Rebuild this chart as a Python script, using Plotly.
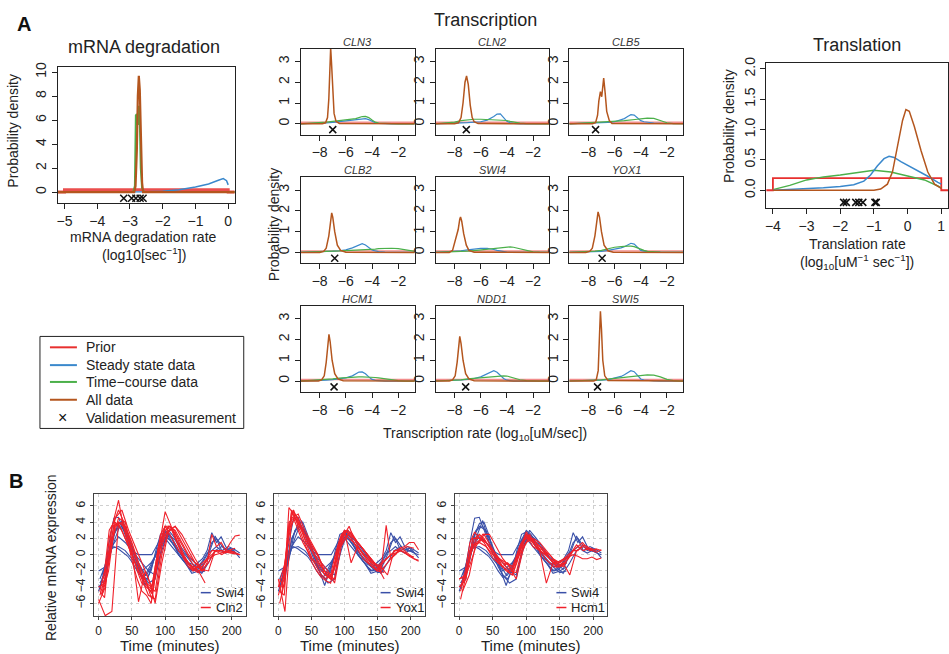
import plotly.graph_objects as go

FONT = "Liberation Sans, Arial, Helvetica, sans-serif"
W, H = 949, 654

RED = "#E8302F"
BLUE = "#3A88CC"
GREEN = "#4BB04A"
BROWN = "#B4561E"
B_BLUE = "#3A50A8"
B_RED = "#F0202A"

# ---------------- mRNA degradation ----------------
MD_PRIOR_X = [-5.2, -5.0, -5.0, 0.0, 0.0, 0.2]
MD_PRIOR_Y = [0, 0, 0.2, 0.2, 0, 0]
MD_BLUE_X = [-5.2, -3.0, -2.5, -2.0, -1.5, -1.0, -0.6, -0.3, -0.15, -0.05, 0.0]
MD_BLUE_Y = [0, 0, 0.02, 0.08, 0.2, 0.42, 0.68, 0.98, 1.12, 0.95, 0.6]
MD_GREEN_X = [-5.2, -2.9, -2.85, -2.82, -2.79, -2.76, -2.73, -2.7, -2.67, -2.63, -2.56, 0.2]
MD_GREEN_Y = [0, 0, 0.5, 6.4, 6.5, 5.6, 7.2, 6.0, 2.0, 0.3, 0, 0]
MD_ALL_X = [-5.2, -2.87, -2.83, -2.79, -2.76, -2.73, -2.7, -2.67, -2.63, -2.6, 0.2]
MD_ALL_Y = [0, 0, 0.5, 3.5, 8.0, 9.7, 8.5, 4.5, 0.8, 0, 0]
MD_VALID_X = [-3.19, -2.95, -2.82, -2.69, -2.6]

# ---------------- Transcription ----------------
GENES = ["CLN3", "CLN2", "CLB5", "CLB2", "SWI4", "YOX1", "HCM1", "NDD1", "SWI5"]
TX_GRID = [-9.5, -8, -7.5, -7, -6.5, -6, -5.5, -5.25, -5, -4.75, -4.5, -4.25,
           -4, -3.75, -3.5, -3, -2.5, -2, -1.5, -1, -0.5]
TX_PRIOR_X = [-9.5, -0.5]
TX_PRIOR_Y = [0.07, 0.07]
TX_STEADY = {
    "CLN3": [0.0, 0.02, 0.04, 0.07, 0.1, 0.13, 0.17, 0.19, 0.21, 0.24, 0.25, 0.2, 0.12, 0.05, 0.02, 0.0, 0, 0, 0, 0, 0],
    "CLN2": [0.0, 0.02, 0.04, 0.06, 0.08, 0.1, 0.18, 0.25, 0.35, 0.47, 0.48, 0.3, 0.12, 0.05, 0.02, 0.0, 0, 0, 0, 0, 0],
    "CLB5": [0.0, 0.02, 0.03, 0.05, 0.07, 0.1, 0.18, 0.25, 0.35, 0.44, 0.42, 0.3, 0.15, 0.1, 0.07, 0.04, 0.02, 0.01, 0, 0, 0],
    "CLB2": [0.0, 0.02, 0.04, 0.06, 0.08, 0.12, 0.22, 0.3, 0.38, 0.42, 0.36, 0.22, 0.12, 0.07, 0.04, 0.02, 0.01, 0, 0, 0, 0],
    "SWI4": [0.0, 0.05, 0.08, 0.12, 0.16, 0.19, 0.2, 0.18, 0.14, 0.1, 0.06, 0.03, 0.01, 0, 0, 0, 0, 0, 0, 0, 0],
    "YOX1": [0.0, 0.01, 0.03, 0.05, 0.1, 0.15, 0.22, 0.27, 0.35, 0.44, 0.4, 0.25, 0.1, 0.06, 0.04, 0.02, 0.01, 0, 0, 0, 0],
    "HCM1": [0.0, 0.02, 0.04, 0.07, 0.1, 0.15, 0.25, 0.33, 0.43, 0.44, 0.35, 0.2, 0.08, 0.03, 0.01, 0, 0, 0, 0, 0, 0],
    "NDD1": [0.0, 0.02, 0.05, 0.08, 0.12, 0.2, 0.35, 0.45, 0.5, 0.42, 0.28, 0.12, 0.04, 0.01, 0, 0, 0, 0, 0, 0, 0],
    "SWI5": [0.0, 0.01, 0.02, 0.04, 0.07, 0.13, 0.22, 0.3, 0.4, 0.5, 0.45, 0.28, 0.1, 0.05, 0.03, 0.01, 0, 0, 0, 0, 0],
}
TX_TIMECOURSE = {
    "CLN3": [0.0, 0.05, 0.08, 0.12, 0.15, 0.17, 0.2, 0.25, 0.3, 0.35, 0.36, 0.3, 0.18, 0.08, 0.03, 0.01, 0, 0, 0, 0, 0],
    "CLN2": [0.0, 0.08, 0.15, 0.2, 0.22, 0.22, 0.21, 0.2, 0.2, 0.2, 0.19, 0.18, 0.16, 0.12, 0.08, 0.03, 0.01, 0, 0, 0, 0],
    "CLB5": [0.0, 0.04, 0.06, 0.08, 0.1, 0.12, 0.14, 0.15, 0.16, 0.18, 0.2, 0.22, 0.24, 0.26, 0.27, 0.26, 0.15, 0.05, 0.01, 0, 0],
    "CLB2": [0.0, 0.02, 0.03, 0.05, 0.07, 0.09, 0.1, 0.1, 0.11, 0.12, 0.13, 0.14, 0.15, 0.16, 0.18, 0.2, 0.2, 0.18, 0.14, 0.08, 0.03],
    "SWI4": [0.0, 0.02, 0.04, 0.06, 0.09, 0.12, 0.16, 0.18, 0.2, 0.22, 0.24, 0.26, 0.27, 0.27, 0.25, 0.18, 0.1, 0.03, 0.01, 0, 0],
    "YOX1": [0.0, 0.03, 0.06, 0.1, 0.18, 0.25, 0.28, 0.3, 0.3, 0.3, 0.28, 0.22, 0.15, 0.1, 0.05, 0.02, 0.01, 0, 0, 0, 0],
    "HCM1": [0.0, 0.04, 0.07, 0.1, 0.14, 0.17, 0.19, 0.2, 0.2, 0.2, 0.2, 0.2, 0.19, 0.17, 0.15, 0.1, 0.05, 0.02, 0, 0, 0],
    "NDD1": [0.0, 0.03, 0.06, 0.1, 0.13, 0.16, 0.19, 0.21, 0.22, 0.24, 0.25, 0.25, 0.24, 0.2, 0.15, 0.06, 0.02, 0, 0, 0, 0],
    "SWI5": [0.0, 0.02, 0.04, 0.06, 0.09, 0.12, 0.15, 0.17, 0.19, 0.21, 0.23, 0.25, 0.27, 0.29, 0.3, 0.28, 0.2, 0.08, 0.02, 0, 0],
}
TX_ALL_X = {
    "CLN3": [-9.5, -7.8, -7.55, -7.4, -7.3, -7.22, -7.16, -7.1, -7.0, -6.9, -6.75, -6.5, -0.5],
    "CLN2": [-9.5, -8.0, -7.7, -7.5, -7.35, -7.2, -7.08, -6.95, -6.8, -6.65, -6.5, -6.2, -0.5],
    "CLB5": [-9.5, -7.7, -7.45, -7.3, -7.2, -7.08, -6.98, -6.92, -6.83, -6.72, -6.6, -6.4, -6.2, -0.5],
    "CLB2": [-9.5, -8.0, -7.7, -7.5, -7.3, -7.15, -7.08, -7.0, -6.85, -6.65, -6.4, -6.0, -0.5],
    "SWI4": [-9.5, -8.4, -8.15, -8.0, -7.85, -7.72, -7.6, -7.54, -7.45, -7.3, -7.1, -6.9, -6.5, -0.5],
    "YOX1": [-9.5, -8.2, -7.9, -7.7, -7.5, -7.35, -7.26, -7.15, -7.0, -6.8, -6.5, -6.1, -0.5],
    "HCM1": [-9.5, -8.1, -7.85, -7.65, -7.5, -7.38, -7.29, -7.2, -7.05, -6.85, -6.6, -6.2, -0.5],
    "NDD1": [-9.5, -8.4, -8.15, -7.95, -7.8, -7.68, -7.6, -7.5, -7.35, -7.15, -6.9, -6.5, -0.5],
    "SWI5": [-9.5, -7.6, -7.4, -7.25, -7.15, -7.08, -7.0, -6.9, -6.75, -6.5, -0.5],
}
TX_ALL_Y = {
    "CLN3": [0, 0, 0.05, 0.3, 1.2, 2.8, 3.65, 3.0, 1.3, 0.5, 0.12, 0.02, 0],
    "CLN2": [0, 0, 0.05, 0.3, 1.0, 2.0, 2.3, 1.9, 0.9, 0.3, 0.1, 0.01, 0],
    "CLB5": [0, 0, 0.05, 0.4, 1.1, 1.55, 1.3, 1.6, 2.2, 1.5, 0.6, 0.15, 0.02, 0],
    "CLB2": [0, 0, 0.05, 0.2, 0.8, 1.6, 1.9, 1.7, 1.0, 0.35, 0.1, 0.01, 0],
    "SWI4": [0, 0, 0.1, 0.45, 0.8, 1.1, 1.6, 1.7, 1.5, 0.9, 0.35, 0.1, 0.01, 0],
    "YOX1": [0, 0, 0.05, 0.2, 0.8, 1.7, 1.95, 1.7, 1.0, 0.35, 0.08, 0.01, 0],
    "HCM1": [0, 0, 0.05, 0.25, 0.9, 1.9, 2.25, 1.9, 1.0, 0.35, 0.1, 0.01, 0],
    "NDD1": [0, 0, 0.05, 0.25, 0.9, 1.8, 2.15, 1.8, 1.0, 0.35, 0.1, 0.01, 0],
    "SWI5": [0, 0, 0.05, 0.5, 2.2, 3.35, 2.5, 1.0, 0.25, 0.03, 0],
}
TX_VALID_X = {"CLN3": -7.0, "CLN2": -7.1, "CLB5": -7.45, "CLB2": -6.85, "SWI4": None,
              "YOX1": -6.95, "HCM1": -6.9, "NDD1": -7.15, "SWI5": -7.3}

# ---------------- Translation ----------------
TL_PRIOR_X = [-4.2, -4.0, -4.0, 1.0, 1.0, 1.2]
TL_PRIOR_Y = [0, 0, 0.2, 0.2, 0, 0]
TL_BLUE_X = [-4, -3.5, -3, -2.5, -2, -1.6, -1.3, -1.1, -0.9, -0.7, -0.55, -0.4, -0.2, 0, 0.3, 0.6, 0.9, 1.0]
TL_BLUE_Y = [0.0, 0.01, 0.03, 0.04, 0.06, 0.09, 0.15, 0.25, 0.4, 0.52, 0.56, 0.54, 0.47, 0.41, 0.33, 0.23, 0.13, 0.1]
TL_GREEN_X = [-4, -3.5, -3, -2.5, -2, -1.5, -1, -0.5, 0, 0.5, 0.9, 1.0]
TL_GREEN_Y = [0.01, 0.08, 0.17, 0.22, 0.25, 0.29, 0.33, 0.3, 0.24, 0.17, 0.07, 0.04]
TL_ALL_X = [-4, -1.0, -0.8, -0.6, -0.45, -0.3, -0.15, -0.05, 0.05, 0.2, 0.4, 0.6, 0.8, 1.0]
TL_ALL_Y = [0, 0, 0.02, 0.1, 0.3, 0.7, 1.15, 1.33, 1.3, 1.05, 0.65, 0.3, 0.1, 0.03]
TL_VALID_X = [-1.9, -1.82, -1.54, -1.45, -1.33, -0.97, -0.93]

# ---------------- Panel B time courses ----------------
T_A = [2, 9, 16, 23, 30, 37, 44, 51, 58, 65, 72, 79, 86, 93, 100, 107, 114, 121, 128,
       135, 142, 149, 156, 163, 170, 177, 184, 191, 198, 205, 212]
T_B = [0, 10, 20, 30, 40, 50, 60, 70, 80, 90, 100, 110, 120, 130, 140, 150, 160]
T_C = [5, 15, 25, 35, 45, 55, 65, 75, 85, 95, 105, 115, 125, 135, 145, 155, 165, 175, 185, 195, 205]

SWI4 = [
    (T_A, [-4.2, -1.8, 1.5, 4.5, 4.6, 3.0, 1.5, 0.0, -1.5, -2.5, -3.0, -2.0, 0.5, 2.5, 2.8, 2.0, 1.0, 0.0, -0.8, -1.5, -2.0, -1.8, -1.0, 0.0, 1.5, 2.0, 1.2, 0.5, 0.8, 0.3, -0.4]),
    (T_A, [-3.5, -2.5, 0.5, 2.5, 3.8, 4.0, 2.5, 0.5, -1.0, -2.0, -1.5, -1.0, 0.0, 1.8, 3.0, 2.5, 1.5, 0.5, -0.5, -1.2, -1.5, -1.0, -0.5, 0.5, 2.7, 1.5, 2.2, 1.0, 0.5, 0.6, 0.2]),
    (T_B, [-2.0, -1.5, 1.0, 2.2, 1.5, 0.5, 0.0, 0.0, 0.0, 1.5, 2.5, 1.5, 0.5, -0.5, -1.5, -2.2, -2.0]),
    (T_B, [-4.5, -2.0, 0.8, 1.0, 0.5, -0.5, -1.5, -3.8, -1.5, 1.0, 2.8, 2.0, 0.0, -1.0, -2.0, -1.5, -1.0]),
    (T_C, [-3.0, -1.0, 3.0, 3.5, 2.0, -0.5, -2.5, -3.5, -3.0, 1.0, 2.5, 1.8, 0.5, -0.5, -1.5, -2.3, -1.0, 0.5, 1.0, 0.5, 0.3]),
    (T_C, [-2.5, -0.5, 2.0, 4.2, 1.5, 0.0, -1.0, -2.0, -2.5, 0.5, 3.0, 2.0, 0.8, -0.3, -1.0, -1.8, 0.0, 2.3, 0.5, 1.0, 0.6]),
    (T_A, [-3.0, -1.5, 0.5, 1.0, 0.7, 0.3, -0.2, -1.0, -2.0, -2.8, -2.5, -1.5, 0.0, 1.2, 2.2, 1.8, 1.0, 0.2, -0.5, -1.0, -1.2, -1.5, -0.8, 0.2, 0.5, 1.0, 0.5, 0.2, 0.5, 0.2, 0.0]),
    (T_B, [-4.0, -3.0, 2.0, 3.5, 3.0, 1.0, -1.0, -2.5, -1.0, 0.5, 2.0, 1.0, 0.0, -1.0, -2.3, -2.0, -1.5]),
]
CLN2 = [
    (T_A, [-5.0, -3.0, 2.0, 4.5, 6.7, 3.5, 1.5, -1.0, -3.0, -4.5, -5.0, -6.0, -2.0, 2.0, 5.3, 4.0, 2.5, 1.0, -0.5, -1.5, -2.0, -1.5, -2.0, -1.0, 2.5, 1.0, 1.5, 0.5, 1.5, 2.3, 2.4]),
    (T_B, [-5.5, -7.5, -7.0, 4.0, 3.5, 1.5, -1.0, -3.0, -5.5, 0.0, 3.5, 3.0, 1.0, -0.5, -1.5, -2.0, -3.5]),
    (T_A, [-4.5, -2.0, 3.0, 4.0, 5.5, 4.2, 2.0, 0.0, -2.0, -3.5, -4.0, -4.5, -1.0, 2.5, 3.5, 3.5, 2.5, 1.0, -0.5, -1.0, -1.8, -2.2, -1.5, -0.5, 0.5, 0.5, 0.5, 0.3, 0.2, 0.1, 0.0]),
    (T_C, [-4.8, -1.0, 3.5, 4.0, 2.5, 0.0, -2.0, -4.0, -4.5, 1.0, 3.5, 3.0, 1.5, 0.0, -1.0, -2.0, -1.0, 0.5, 0.5, 0.3, 0.2]),
    (T_C, [-5.0, -2.0, 4.0, 3.0, 1.0, -1.0, -3.0, -5.0, -5.5, 0.0, 3.0, 3.5, 2.0, 0.5, -1.0, -1.5, -0.5, 0.0, 0.2, 0.5, 0.3]),
    (T_B, [-4.0, -3.5, 1.5, 4.5, 4.0, 0.5, -5.8, -2.0, -4.0, 1.0, 3.5, 2.0, 0.5, -0.5, -1.8, -1.5, -2.0]),
    (T_A, [-4.5, -5.3, 0.5, 3.5, 4.0, 3.5, 2.0, 0.5, -1.0, -2.5, -3.5, -4.0, -2.5, 1.0, 3.0, 3.5, 3.0, 1.5, 0.0, -1.0, -1.5, -1.5, -1.0, -0.5, 0.0, 0.5, 0.3, 0.2, 0.5, 0.2, 0.0]),
    (T_C, [-3.5, 0.0, 4.5, 5.5, 3.0, 1.0, -1.0, -3.0, -6.0, -1.0, 2.8, 3.5, 2.5, 1.0, -0.5, -1.8, -2.0, 0.5, 0.0, 0.5, 0.8]),
    (T_B, [-6.0, -4.0, 3.5, 3.8, 2.0, 0.0, -2.0, -3.5, -4.8, 0.5, 2.5, 3.2, 2.0, 0.5, -1.0, -2.0, -1.8]),
]
YOX1 = [
    (T_A, [-6.0, -3.5, 5.8, 5.0, 3.5, 2.0, 0.5, -1.0, -2.0, -2.8, -3.2, -3.5, -1.0, 1.5, 2.5, 3.5, 2.0, 1.0, 0.0, -0.8, -1.5, -2.0, -1.5, 3.6, -0.5, 0.0, 0.8, 1.0, 1.5, 1.5, 0.6]),
    (T_B, [-3.0, -7.0, 4.5, 5.0, 3.0, 1.5, 0.0, -2.0, -3.0, 1.0, 3.0, 2.5, 1.5, 0.5, -0.5, -1.5, -3.0]),
    (T_A, [-4.5, -5.0, 3.5, 5.5, 4.0, 2.5, 1.0, -0.5, -1.5, -2.5, -3.0, -2.5, 0.0, 2.0, 3.0, 2.5, 1.5, 0.5, -0.5, -1.0, -1.5, -1.8, -1.2, -0.5, 0.0, 0.2, 0.5, 0.3, -0.2, -0.5, -0.8]),
    (T_C, [-4.0, 2.0, 5.0, 3.5, 1.5, 0.0, -1.5, -2.5, -3.0, 2.5, 3.0, 2.0, 1.0, 0.0, -1.0, -2.0, -1.0, 0.0, 0.5, 0.0, -0.3]),
    (T_C, [-5.0, 3.0, 4.5, 3.0, 2.0, 0.5, -1.0, -2.0, -3.5, 1.0, 2.5, 2.0, 1.0, 0.0, -1.0, -1.5, -2.5, 0.5, 0.5, 1.0, 0.8]),
    (T_B, [-4.0, -1.0, 5.2, 4.0, 2.5, 1.0, 0.0, -2.5, -3.0, 0.5, 2.0, 2.8, 1.5, 0.5, -0.8, -1.5, -1.8]),
    (T_A, [-3.0, -4.0, 4.0, 4.5, 3.0, 1.5, 0.5, -0.5, -1.0, -2.0, -2.5, -3.0, -1.5, 1.0, 2.5, 2.0, 1.5, 0.8, 0.0, -0.5, -1.0, -1.5, -1.0, -0.5, 0.0, 0.5, 0.8, 0.5, 0.0, -0.5, -0.7]),
    (T_B, [-5.0, -2.0, 5.5, 4.5, 2.0, 0.5, -1.0, -2.0, -2.5, 0.0, 3.0, -1.0, 1.0, 0.0, -1.0, -2.0, -2.2]),
]
HCM1 = [
    (T_A, [-5.5, -3.0, 0.5, 2.0, 2.5, 2.0, 1.0, 0.0, -1.0, -1.5, -2.0, -2.5, -1.0, 1.0, 2.5, 2.0, 1.5, 0.5, -0.5, -1.0, -1.5, -1.5, -1.0, -0.5, 0.5, 1.0, 1.5, 0.8, 0.6, 0.7, 0.5]),
    (T_B, [-3.0, -2.5, 1.0, 2.5, 1.5, 0.5, -1.0, -2.0, -2.5, 0.5, 2.8, 1.5, 0.5, -3.5, -1.0, -1.5, -1.0]),
    (T_A, [-4.0, -2.0, 1.5, 2.8, 2.0, 1.5, 0.5, -0.5, -1.0, -1.5, -1.0, -1.5, 0.0, 1.5, 2.0, 1.8, 1.0, 0.5, 0.0, -0.5, -1.0, -0.8, -0.5, -0.2, 0.0, -0.2, -0.5, -0.5, -0.3, -0.6, -0.4]),
    (T_C, [-4.5, -2.5, 1.5, 2.0, 1.0, 0.0, -1.5, -2.0, -2.2, 1.0, 2.0, 1.5, 0.5, 0.0, -1.0, -1.5, 0.0, 1.2, 0.5, 0.8, 0.5]),
    (T_C, [-3.5, -1.5, 1.0, 2.5, 2.5, 1.0, -0.5, -1.5, -3.0, 0.5, 2.5, 1.0, 0.5, -0.5, -1.5, -1.0, -2.5, 0.5, 1.0, 0.5, 0.7]),
    (T_B, [-3.0, -2.6, 1.2, 1.5, 1.0, 0.0, -0.5, -1.0, -1.5, 0.0, 1.5, 2.0, 1.5, 0.5, -0.5, -1.0, -0.5]),
    (T_A, [-4.5, -2.5, 0.0, 1.2, 1.5, 2.5, 1.5, 0.5, -0.5, -1.0, -1.2, -1.8, -0.5, 1.0, 2.2, 2.0, 1.5, 1.0, 0.5, -0.5, -0.8, -1.0, -0.5, 0.0, 0.5, 0.5, 1.2, 1.0, 0.5, 0.3, 0.6]),
    (T_B, [-4.0, -3.0, 2.0, 2.0, 1.5, 0.5, -0.5, -1.5, -2.0, 1.0, 2.5, 1.0, 0.5, 0.0, -1.0, -1.2, -1.0]),
]
B_PANELS = [("Cln2", CLN2), ("Yox1", YOX1), ("Hcm1", HCM1)]

# ---------------- helpers ----------------
def fx(p):
    return p / W


def fy(p):
    return 1 - p / H


fig = go.Figure()
layout = dict(width=W, height=H, margin=dict(l=0, r=0, t=0, b=0),
              paper_bgcolor="white", plot_bgcolor="white", showlegend=False,
              font=dict(family=FONT, color="#222"))
annotations = []
shapes = []


def add_axes(n, box, xr, yr, xt, yt, fs=13, yfmt=None, grid=False, lc="#222", ticklen=5):
    l, t, r, b = box
    sx = "" if n == 1 else str(n)
    common = dict(ticks="outside", ticklen=ticklen, tickwidth=1, tickcolor=lc,
                  showline=True, linecolor=lc, linewidth=1, mirror=True,
                  zeroline=False, fixedrange=True, tickfont=dict(size=fs, color="#222"))
    if grid:
        common.update(showgrid=True, gridcolor="#cfcfcf", griddash="dot", gridwidth=1)
    else:
        common.update(showgrid=False)
    layout["xaxis" + sx] = dict(domain=[fx(l), fx(r)], range=xr, tickvals=xt,
                                anchor="y" + sx, **common)
    ya = dict(domain=[fy(b), fy(t)], range=yr, tickvals=yt, anchor="x" + sx,
              tickangle=-90, **common)
    if yfmt:
        ya["tickformat"] = yfmt
    layout["yaxis" + sx] = ya
    return "x" + sx, "y" + sx


def line(xa, ya, x, y, color, width=1.5, opacity=1.0):
    fig.add_trace(go.Scatter(x=x, y=y, xaxis=xa, yaxis=ya, mode="lines",
                             line=dict(color=color, width=width), opacity=opacity,
                             hoverinfo="skip", showlegend=False))


def crosses(xa, ya, x, y):
    fig.add_trace(go.Scatter(x=x, y=y, xaxis=xa, yaxis=ya, mode="markers",
                             marker=dict(symbol="x-thin", size=7, line=dict(width=1.5, color="#111")),
                             hoverinfo="skip", showlegend=False))


def text(x, y, s, size=14, angle=0, color="#222", xanchor="center", italic=False, bold=False):
    if italic:
        s = "<i>" + s + "</i>"
    if bold:
        s = "<b>" + s + "</b>"
    annotations.append(dict(x=fx(x), y=fy(y), xref="paper", yref="paper", text=s,
                            showarrow=False, textangle=angle, xanchor=xanchor, yanchor="middle",
                            font=dict(size=size, color=color, family=FONT)))


# ---------------- mRNA degradation panel ----------------
xa, ya = add_axes(1, (57, 61, 234, 198), [-5.2, 0.2], [-0.9, 10.4],
                  [-5, -4, -3, -2, -1, 0], [0, 2, 4, 6, 8, 10], fs=14)
line(xa, ya, MD_PRIOR_X, MD_PRIOR_Y, RED, 3, 0.85)
line(xa, ya, MD_BLUE_X, MD_BLUE_Y, BLUE, 1.5)
line(xa, ya, MD_GREEN_X, MD_GREEN_Y, GREEN, 2)
line(xa, ya, MD_ALL_X, MD_ALL_Y, BROWN, 2.2)
crosses(xa, ya, MD_VALID_X, [-0.52] * len(MD_VALID_X))

# ---------------- Transcription panels ----------------
col_left = [300, 435, 569]
row_top = [42, 172, 302]
for i, g in enumerate(GENES):
    r, c = divmod(i, 3)
    l, t = col_left[c], row_top[r]
    xa, ya = add_axes(2 + i, (l, t, l + 114, t + 87), [-9.45, -0.75], [-0.52, 3.62],
                      [-8, -6, -4, -2], [0, 1, 2, 3], fs=14)
    line(xa, ya, TX_PRIOR_X, TX_PRIOR_Y, RED, 1.5, 0.55)
    line(xa, ya, TX_GRID, TX_STEADY[g], BLUE, 1.2)
    line(xa, ya, TX_GRID, TX_TIMECOURSE[g], GREEN, 1.2)
    line(xa, ya, TX_ALL_X[g], TX_ALL_Y[g], BROWN, 1.5)
    if TX_VALID_X[g] is not None:
        crosses(xa, ya, [TX_VALID_X[g]], [-0.28])
    text(l + 57, t - 7, g, size=11, italic=True, color="#333")

# ---------------- Translation panel ----------------
xa, ya = add_axes(11, (766, 57, 948, 203), [-4.2, 1.2], [-0.29, 2.09],
                  [-4, -3, -2, -1, 0, 1], [0, 0.5, 1.0, 1.5, 2.0], fs=14, yfmt=".1f")
line(xa, ya, TL_PRIOR_X, TL_PRIOR_Y, RED, 1.8)
line(xa, ya, TL_GREEN_X, TL_GREEN_Y, GREEN, 1.5)
line(xa, ya, TL_BLUE_X, TL_BLUE_Y, BLUE, 1.5)
line(xa, ya, TL_ALL_X, TL_ALL_Y, BROWN, 1.5)
crosses(xa, ya, TL_VALID_X, [-0.2] * len(TL_VALID_X))

# ---------------- Panel B ----------------
b_boxes = [(93, 492, 245, 616), (273, 492, 424, 616), (454, 492, 607, 616)]
b_leg_x = [200, 380, 556]
for k, (name, series) in enumerate(B_PANELS):
    box = b_boxes[k]
    xa, ya = add_axes(12 + k, box, [-7, 221], [-7.6, 7.5], [0, 50, 100, 150, 200],
                      [-6, -4, -2, 0, 2, 4, 6], fs=12, grid=True, lc="#444", ticklen=3)
    for tt, vv in SWI4:
        line(xa, ya, tt, vv, B_BLUE, 1.1)
    for tt, vv in series:
        line(xa, ya, tt, vv, B_RED, 1.1)
    x0 = b_leg_x[k]
    for j, (lab, col) in enumerate([("Swi4", B_BLUE), (name, B_RED)]):
        yy = 592 + j * 15
        shapes.append(dict(type="line", xref="paper", yref="paper", x0=fx(x0), x1=fx(x0 + 10),
                           y0=fy(yy), y1=fy(yy), line=dict(color=col, width=1.5)))
        text(x0 + 13, yy, lab, size=13, xanchor="left")
    text((box[0] + box[2]) / 2, 645, "Time (minutes)", size=15)

# ---------------- texts ----------------
text(23, 17, "A", size=20, bold=True, color="#111")
text(15, 479, "B", size=20, bold=True, color="#111")
text(143, 40, "mRNA degradation", size=18)
text(485, 13, "Transcription", size=18)
text(857, 38, "Translation", size=18)
text(12, 125, "Probability density", size=14, angle=-90)
text(143, 232, "mRNA degradation rate", size=14)
text(143, 250, "(log10[sec<sup>\u22121</sup>])", size=14)
text(273, 220, "Probability density", size=14, angle=-90)
text(485, 432, "Transcription rate (log<sub>10</sub>[uM/sec])", size=14)
text(728, 120, "Probability density", size=14, angle=-90)
text(857, 240, "Translation rate", size=14)
text(857, 258, "(log<sub>10</sub>[uM<sup>\u22121</sup> sec<sup>\u22121</sup>])", size=14)
text(50, 556, "Relative mRNA expression", size=14, angle=-90)

# ---------------- legend for panel A ----------------
shapes.append(dict(type="rect", xref="paper", yref="paper", x0=fx(39), x1=fx(243),
                   y0=fy(426), y1=fy(333), line=dict(color="#222", width=1)))
leg = [("Prior", RED), ("Steady state data", BLUE), ("Time\u2212course data", GREEN),
       ("All data", BROWN), ("Validation measurement", None)]
leg_y = [344, 362, 379, 397, 415]
for (lab, col), yy in zip(leg, leg_y):
    if col:
        shapes.append(dict(type="line", xref="paper", yref="paper", x0=fx(49), x1=fx(76),
                           y0=fy(yy), y1=fy(yy), line=dict(color=col, width=2)))
    else:
        text(62, yy, "\u00d7", size=16, color="#111")
    text(83, yy, lab, size=14, xanchor="left")

layout["annotations"] = annotations
layout["shapes"] = shapes
fig.update_layout(**layout)
fig.write_html("out.html")
